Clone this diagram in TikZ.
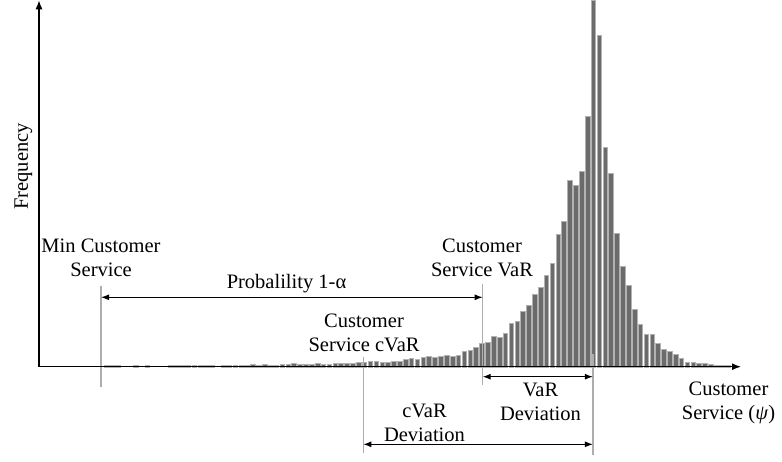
\documentclass[tikz,border=0pt]{standalone}
\usepackage{fontspec}
\setmainfont{Liberation Serif}
\usetikzlibrary{arrows.meta}
\tikzset{
  axisline/.style={line width=1.3pt, -{Latex[length=9pt,width=7pt]}},
  dimarrow/.style={line width=1.1pt, {Latex[length=8pt,width=6pt]}-{Latex[length=8pt,width=6pt]}},
  guide/.style={draw=black!32, line width=1.3pt},
  histbar/.style={fill=black!58, draw=black!30, line width=0.35pt},
  lbl/.style={font=\fontsize{20.5}{24}\selectfont, align=center, inner sep=0pt, anchor=base}
}
\begin{document}
\begin{tikzpicture}[x=1pt,y=-1pt]
\useasboundingbox (0,0) rectangle (782,461);
% histogram bars
\foreach \i/\h in {-83/1.5,-82/1.5,-81/1.5,-78/1.5,-76/1.5,
 -72/1.5,-71/1.5,-70/1.5,-69/1.5,-68/1.5,-67/1.5,-66/1.5,-65/1.5,
 -63/1.5,-62/1.5,-61/2,-60/2,-59/2,-58/2.5,-57/2,-56/2.5,-55/2,-54/2,-53/3,-52/2.5,-51/4,-50/3,
 -49/3,-48/3,-47/3.5,-46/3,-45/3,-44/3.5,-43/4,-42/4,-41/3.5,-40/4.5,-39/5,-38/5.5,-37/6,-36/5,-35/5,-34/5.5,-33/6,-32/8,-31/8.5,-30/7.5,-29/10,-28/10.5,-27/9.5,-26/11,-25/11.5,-24/10.5,-23/12,-22/16,
 -21/16.7,-20/20,-19/23.4,-18/24.7,-17/30.7,-16/30,-15/34,-14/44,-13/46,-12/55.7,-11/61.7,-10/72.4,-9/79.4,-8/91.4,-7/103.4,-6/132.7,-5/146,-4/186.7,-3/181.7,-2/195.7,-1/250.7,0/366.5,
 1/332,2/219.7,3/194,4/134,5/100.4,6/81.4,7/58,8/43,9/32.7,10/32.7,11/23.7,12/17.4,13/16,14/12.4,15/9,16/5,17/5,18/4,19/4,20/2.7,21/1.7,22/1.7,23/1.7}
  \filldraw[histbar] ({593.3+5.87*(\i)-2.3},366.7) rectangle ++(4.6,-\h);

% coordinates
\coordinate (o) at (39,366.7);
\coordinate (ytip) at (39,0.3);
\coordinate (xtip) at (741,366.7);
\coordinate (minTop) at (101,285.7);
\coordinate (minBot) at (101,387.3);
\coordinate (varTop) at (482.7,284.3);
\coordinate (varBot) at (482.7,385);
\coordinate (cvarTop) at (363.3,356.7);
\coordinate (cvarBot) at (363.3,453);
\coordinate (pkTop) at (592.9,353.5);
\coordinate (pkBot) at (592.9,455);
\coordinate (probL) at (101,297.3);
\coordinate (probR) at (482.7,297.3);
\coordinate (vdL) at (482.7,376.7);
\coordinate (vdR) at (592.9,376.7);
\coordinate (cdL) at (363.3,444.3);
\coordinate (cdR) at (592.9,444.3);

% guide lines
\draw[guide] (minTop) -- (minBot);
\draw[guide] (varTop) -- (varBot);
\draw[guide] (cvarTop) -- (cvarBot);
\draw[guide] (pkTop) -- (pkBot);

% axes
\draw[axisline] (o) -- (ytip);
\draw[axisline] (o) -- (xtip);

% dimension arrows
\draw[dimarrow] (probL) -- (probR);
\draw[dimarrow] (vdL) -- (vdR);
\draw[dimarrow] (cdL) -- (cdR);

% labels (anchor base = baseline of the last line)
\node[lbl] (minlbl) at (101,276) {Min Customer\\Service};
\node[lbl] (problbl) at (286.5,288.3) {Probalility 1-α};
\node[lbl] (varlbl) at (482,276) {Customer\\Service VaR};
\node[lbl] (cvarlbl) at (364,351) {Customer\\Service cVaR};
\node[lbl] (vardevlbl) at (540.5,420) {VaR\\Deviation};
\node[lbl] (cvardevlbl) at (424.5,441) {cVaR\\Deviation};
\node[lbl] (xlbl) at (728.5,419) {Customer\\Service (\textit{ψ})};
\node[lbl, anchor=center, rotate=90] (ylbl) at (23.5,166.5) {Frequency};
\end{tikzpicture}
\end{document}
